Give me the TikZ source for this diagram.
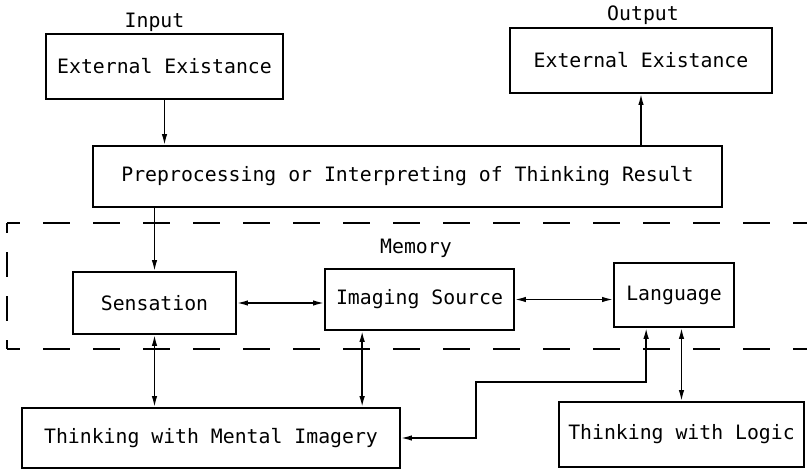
\documentclass[tikz,border=0pt]{standalone}
\usepackage{fontspec}
\newfontfamily\plotfont{DejaVu Sans Mono}
\usetikzlibrary{arrows.meta}
\begin{document}
\begin{tikzpicture}[x=1pt,y=-1pt,
  every node/.style={font=\plotfont\fontsize{19.8}{23}\selectfont},
  box/.style={draw,line width=1.7pt,inner sep=0pt,minimum width=#1},
  link/.style={line width=1.6pt},
  tip/.tip={Latex[length=11pt,width=5.5pt]},
  memline/.style={line width=1.6pt,dash pattern=on 27pt off 23pt,dash phase=14pt}]
\useasboundingbox (0,0) rectangle (807,472);

% labels
\node (lin)  at (154.5,22) {Input};
\node (lout) at (643,15)   {Output};
\node (lmem) at (416,248)  {Memory};

% boxes
\node[box=237pt,minimum height=65pt] (ein)  at (164.5,66.5) {External Existance};
\node[box=262pt,minimum height=65pt] (eout) at (641,60.5)   {External Existance};
\node[box=629pt,minimum height=61pt] (prep) at (407.5,176.5) {Preprocessing or Interpreting of Thinking Result};
\node[box=163pt,minimum height=62pt] (sens) at (154.5,303)  {Sensation};
\node[box=189pt,minimum height=61pt] (img)  at (419.5,299.5) {Imaging Source};
\node[box=120pt,minimum height=64pt] (lang) at (674,295)    {Language};
\node[box=378pt,minimum height=60pt] (tmi)  at (211,438)    {Thinking with Mental Imagery};
\node[box=245pt,minimum height=65pt] (tlog) at (681.5,434.5) {Thinking with Logic};

% memory region (open on the right)
\coordinate (mtl) at (7,223);
\coordinate (mbl) at (7,349);
\coordinate (mtr) at (807,223);
\coordinate (mbr) at (807,349);
\draw[memline] (mtl) -- (mtr);
\draw[memline] (mbl) -- (mbr);
\draw[line width=1.6pt,dash pattern=on 25pt off 19pt,dash phase=15pt] (mtl) -- (mbl);

% connectors
\draw[link,-tip] (ein.south) -- (ein.south |- prep.north);
\draw[link,-tip] (prep.north -| eout.south) -- (eout.south);
\draw[link,-tip] (prep.south -| sens.north) -- (sens.north);
\draw[link,tip-tip] (sens.east) -- (sens.east -| img.west);
\draw[link,tip-tip] (img.east) -- (img.east -| lang.west);
\draw[link,tip-tip] (sens.south) -- (sens.south |- tmi.north);
\draw[link,tip-tip] ([xshift=38pt]img.south west) -- ([xshift=38pt]img.south west |- tmi.north);
\draw[link,tip-tip] (tlog.north |- lang.south) -- (tlog.north);
\coordinate (bend) at (476,382);
\draw[link,tip-tip] ([xshift=33pt]lang.south west) |- (bend) |- (tmi.east);
\end{tikzpicture}
\end{document}
